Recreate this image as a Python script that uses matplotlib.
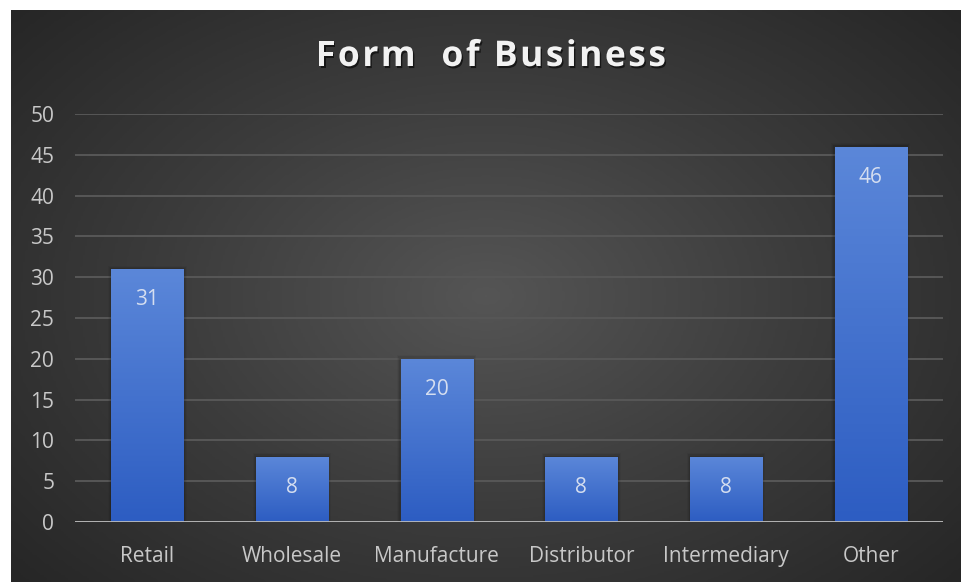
import matplotlib.pyplot as plt
import matplotlib.patheffects as pe
from matplotlib.colors import LinearSegmentedColormap
import numpy as np

categories = ['Retail', 'Wholesale', 'Manufacture', 'Distributor', 'Intermediary', 'Other']
counts = [31, 8, 20, 8, 8, 46]
yticks = [0, 5, 10, 15, 20, 25, 30, 35, 40, 45, 50]
title = 'Form  of Business'

plt.rcParams['font.family'] = ['Open Sans', 'DejaVu Sans']

W, H = 961, 582
fig = plt.figure(figsize=(W / 100, H / 100), dpi=100)
fig.patch.set_facecolor('white')

# dark panel with a radial glow in the middle
bg = fig.add_axes([11 / W, 0, 1 - 11 / W, 1 - 10 / H])
bg.set_axis_off()
gx, gy = np.meshgrid(np.linspace(-1, 1, 400), np.linspace(-1, 1, 250))
r = np.sqrt(gx ** 2 + (gy * 0.9) ** 2)
r = np.clip(r / 1.35, 0, 1)
bg_cmap = LinearSegmentedColormap.from_list('panel', ['#555555', '#3c3c3c', '#262626'])
bg.imshow(r, cmap=bg_cmap, aspect='auto', extent=(0, 1, 0, 1), vmin=0, vmax=1)
bg.set_xlim(0, 1)
bg.set_ylim(0, 1)

ax = fig.add_axes([75 / W, 1 - 522 / H, (943 - 75) / W, (522 - 114) / H])
ax.patch.set_alpha(0)
x = np.arange(len(categories))

bar_cmap = LinearSegmentedColormap.from_list('bar', ['#2d5dc2', '#5b87d9'])
bars = ax.bar(x, counts, width=0.5, color='none', zorder=3)
grad = np.linspace(0, 1, 100).reshape(-1, 1)
for b, v in zip(bars, counts):
    x0 = b.get_x()
    w = b.get_width()
    # soft shadow behind each bar
    for k, a in enumerate([0.10, 0.07, 0.04]):
        d = 0.012 * (k + 1)
        ax.add_patch(plt.Rectangle((x0 - d * 0.6, -0.2), w + d * 1.2, v + 0.2 + d * 12,
                                   facecolor='black', alpha=a, lw=0, zorder=2))
    im = ax.imshow(grad, cmap=bar_cmap, origin='lower', aspect='auto',
                   extent=(x0, x0 + w, 0, v), zorder=3)
    im.set_clip_path(b)
    ax.text(b.get_x() + w / 2, v - 3.75, str(v), ha='center', va='center',
            color='#d5def0', fontsize=15, zorder=4)

ax.set_xlim(-0.5, len(categories) - 0.5)
ax.set_ylim(0, 50)
ax.set_yticks(yticks)
ax.set_xticks(x)
ax.set_xticklabels(categories)
ax.grid(axis='y', color='#575757', lw=1.4, zorder=1)
ax.axhline(0, color='#bcbcbc', lw=2, zorder=5)
for s in ax.spines.values():
    s.set_visible(False)
ax.tick_params(axis='both', length=0, colors='#c8c8c8', labelsize=15)
ax.tick_params(axis='y', pad=15)
ax.tick_params(axis='x', pad=17)

# title drawn letter by letter to get the wide tracking
renderer = fig.canvas.get_renderer()
tkw = dict(fontsize=25.5, fontweight='bold', color='#f2f2f2', va='center', ha='left',
           path_effects=[pe.SimplePatchShadow(offset=(1, -1.5), shadow_rgbFace='black', alpha=0.6),
                         pe.Normal()])
probe = fig.text(0, 0, '|', **tkw)
bar_w = probe.get_window_extent(renderer).width
offsets = []
for i in range(len(title) + 1):
    probe.set_text(title[:i] + '|')
    offsets.append(probe.get_window_extent(renderer).width - bar_w)
probe.remove()
target_w = 350
track = (target_w - offsets[-1]) / (len(title) - 1)
left = 491 - target_w / 2
for i, ch in enumerate(title):
    if ch == ' ':
        continue
    fig.text((left + offsets[i] + i * track) / W, 1 - 57 / H, ch, **tkw)

fig.savefig('out.png', dpi=100)
